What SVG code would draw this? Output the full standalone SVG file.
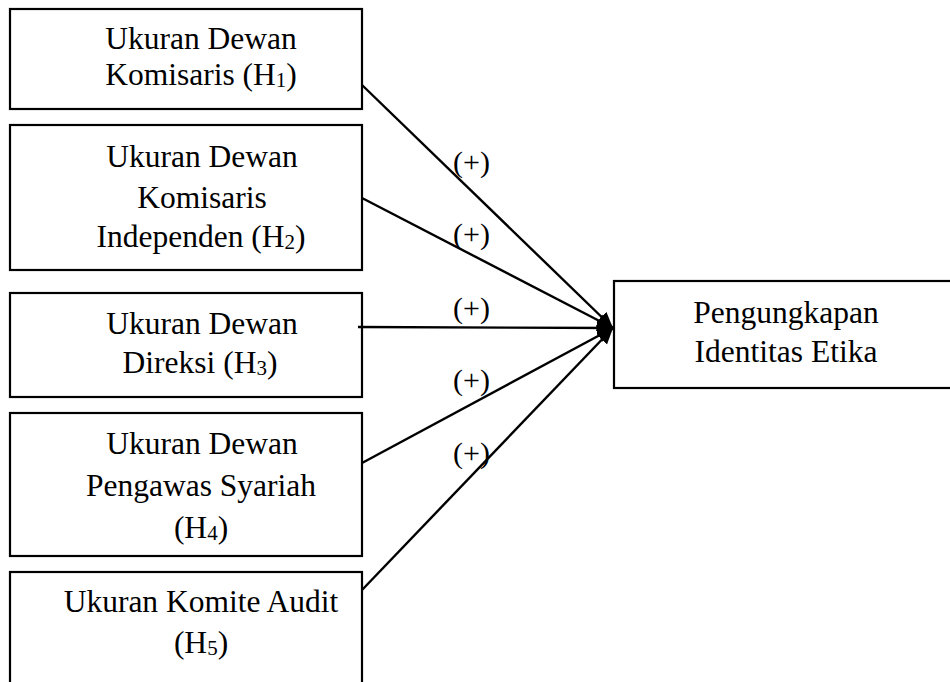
<svg xmlns="http://www.w3.org/2000/svg" width="950" height="682" viewBox="0 0 950 682">
<style>
.box{fill:#fff;stroke:#000;stroke-width:2.2}
.t{font-family:"Liberation Serif","Times New Roman",serif;font-size:31.5px;fill:#000;text-anchor:middle}
.s{font-size:21px}
.lbl{font-family:"Liberation Serif","Times New Roman",serif;font-size:30px;fill:#000}
.c{stroke:#000;stroke-width:2.4;fill:none;marker-end:url(#ah)}
</style>
<defs>
<marker id="ah" markerUnits="userSpaceOnUse" markerWidth="18" markerHeight="16" refX="16" refY="8" orient="auto">
<path d="M0,1 L16,8 L0,15 Z" fill="#000"/>
</marker>
</defs>
<rect width="950" height="682" fill="#fff"/>
<g id="n1">
<rect class="box" x="10" y="9" width="352" height="100"/>
<text class="t" x="201" y="49">Ukuran Dewan</text>
<text class="t" x="201" y="85">Komisaris (H<tspan class="s" dy="2">1</tspan><tspan dy="-2">)</tspan></text>
</g>
<g id="n2">
<rect class="box" x="10" y="125" width="352" height="145"/>
<text class="t" x="202" y="167">Ukuran Dewan</text>
<text class="t" x="202" y="208">Komisaris</text>
<text class="t" x="201" y="247">Independen (H<tspan class="s" dy="2">2</tspan><tspan dy="-2">)</tspan></text>
</g>
<g id="n3">
<rect class="box" x="10" y="293" width="352" height="104"/>
<text class="t" x="202" y="334">Ukuran Dewan</text>
<text class="t" x="200" y="373">Direksi (H<tspan class="s" dy="2">3</tspan><tspan dy="-2">)</tspan></text>
</g>
<g id="n4">
<rect class="box" x="10" y="413" width="352" height="143"/>
<text class="t" x="202" y="454">Ukuran Dewan</text>
<text class="t" x="201" y="496">Pengawas Syariah</text>
<text class="t" x="201" y="538">(H<tspan class="s" dy="2">4</tspan><tspan dy="-2">)</tspan></text>
</g>
<g id="n5">
<rect class="box" x="10" y="572" width="352" height="130"/>
<text class="t" x="201" y="612">Ukuran Komite Audit</text>
<text class="t" x="201" y="653">(H<tspan class="s" dy="2">5</tspan><tspan dy="-2">)</tspan></text>
</g>
<g id="target">
<rect class="box" x="614" y="281" width="345" height="107"/>
<text class="t" x="786" y="323">Pengungkapan</text>
<text class="t" x="786" y="362">Identitas Etika</text>
</g>
<g id="connectors">
<line class="c" x1="362" y1="85" x2="613" y2="328"/>
<line class="c" x1="362" y1="198" x2="613" y2="328"/>
<line class="c" x1="358" y1="327" x2="613" y2="328"/>
<line class="c" x1="362" y1="463" x2="613" y2="328"/>
<line class="c" x1="362" y1="590" x2="613" y2="328"/>
<text class="lbl" x="453" y="172">(+)</text>
<text class="lbl" x="453" y="244">(+)</text>
<text class="lbl" x="453" y="318">(+)</text>
<text class="lbl" x="453" y="390">(+)</text>
<text class="lbl" x="453" y="463">(+)</text>
</g>
</svg>
